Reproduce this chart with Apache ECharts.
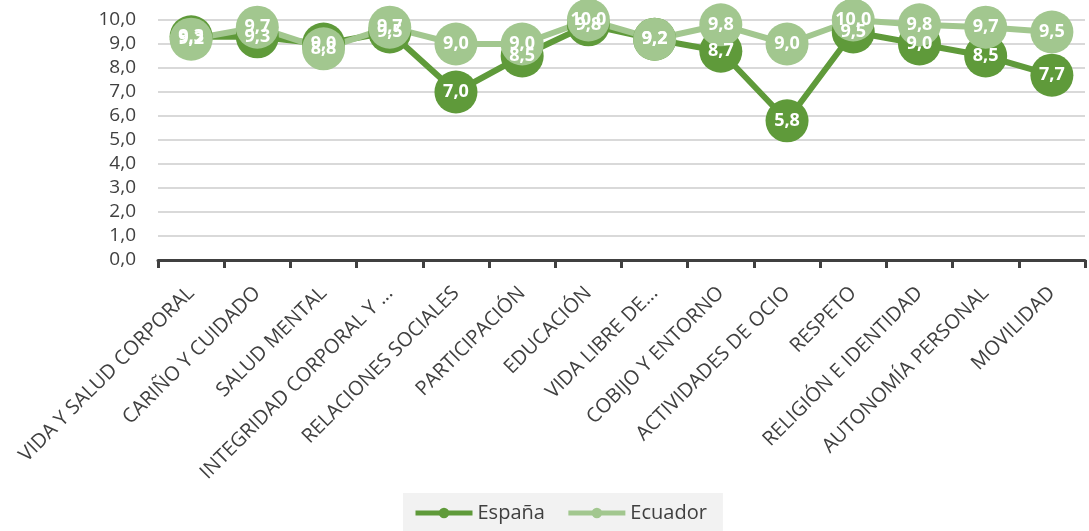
<!DOCTYPE html>
<html>
<head>
<meta charset="utf-8">
<script src="https://cdn.jsdelivr.net/npm/echarts@6/dist/echarts.min.js"></script>
<style>
  html, body { margin: 0; padding: 0; background: #fff; }
  #chart { width: 1089px; height: 531px; }
</style>
</head>
<body>
<div id="chart"></div>
<script>
const categories = [
  'VIDA Y SALUD CORPORAL', 'CARIÑO Y CUIDADO', 'SALUD MENTAL', 'INTEGRIDAD CORPORAL Y ...',
  'RELACIONES SOCIALES', 'PARTICIPACIÓN', 'EDUCACIÓN', 'VIDA LIBRE DE...',
  'COBIJO Y ENTORNO', 'ACTIVIDADES DE OCIO', 'RESPETO', 'RELIGIÓN E IDENTIDAD',
  'AUTONOMÍA PERSONAL', 'MOVILIDAD'
];
const espana = [9.3, 9.3, 9.0, 9.5, 7.0, 8.5, 9.8, 9.2, 8.7, 5.8, 9.5, 9.0, 8.5, 7.7];
const ecuador = [9.2, 9.7, 8.8, 9.7, 9.0, 9.0, 10.0, 9.2, 9.8, 9.0, 10.0, 9.8, 9.7, 9.5];

const darkGreen = '#5f9a3a';
const lightGreen = '#a2c78f';
const textColor = '#404040';
const fmt = v => v.toFixed(1).replace('.', ',');
const font = '"Open Sans", sans-serif';

function makeSeries(name, data, color) {
  return {
    name: name,
    type: 'line',
    data: data,
    symbol: 'circle',
    symbolSize: 43,
    lineStyle: { color: color, width: 6 },
    itemStyle: { color: color },
    label: {
      show: true,
      position: 'inside',
      color: '#fff',
      fontFamily: font,
      fontWeight: 'bold',
      fontSize: 18,
      formatter: p => fmt(p.value)
    },
    emphasis: { disabled: true }
  };
}

const chart = echarts.init(document.getElementById('chart'));
chart.setOption({
  animation: false,
  grid: { left: 158, right: 4, top: 20, bottom: 271, containLabel: false },
  legend: {
    bottom: -2,
    left: 403,
    backgroundColor: '#f2f2f2',
    padding: [10, 16, 10, 10],
    itemGap: 21,
    itemWidth: 57,
    itemHeight: 13,
    lineStyle: { width: 5 },
    textStyle: { color: textColor, fontSize: 20, fontFamily: font },
    data: ['España', 'Ecuador']
  },
  xAxis: {
    type: 'category',
    data: categories,
    boundaryGap: true,
    axisLine: { lineStyle: { color: textColor, width: 3 } },
    axisTick: { show: true, length: 8, lineStyle: { color: textColor, width: 3 } },
    axisLabel: {
      rotate: 45,
      interval: 0,
      margin: 30,
      color: textColor,
      fontSize: 20,
      fontFamily: font
    }
  },
  yAxis: {
    type: 'value',
    min: 0,
    max: 10,
    interval: 1,
    axisLine: { show: false },
    axisTick: { show: false },
    splitLine: { lineStyle: { color: '#d9d9d9', width: 2 } },
    axisLabel: {
      margin: 22,
      color: textColor,
      fontSize: 19,
      fontFamily: font,
      formatter: v => fmt(v)
    }
  },
  series: [
    makeSeries('España', espana, darkGreen),
    makeSeries('Ecuador', ecuador, lightGreen)
  ]
});
</script>
</body>
</html>
